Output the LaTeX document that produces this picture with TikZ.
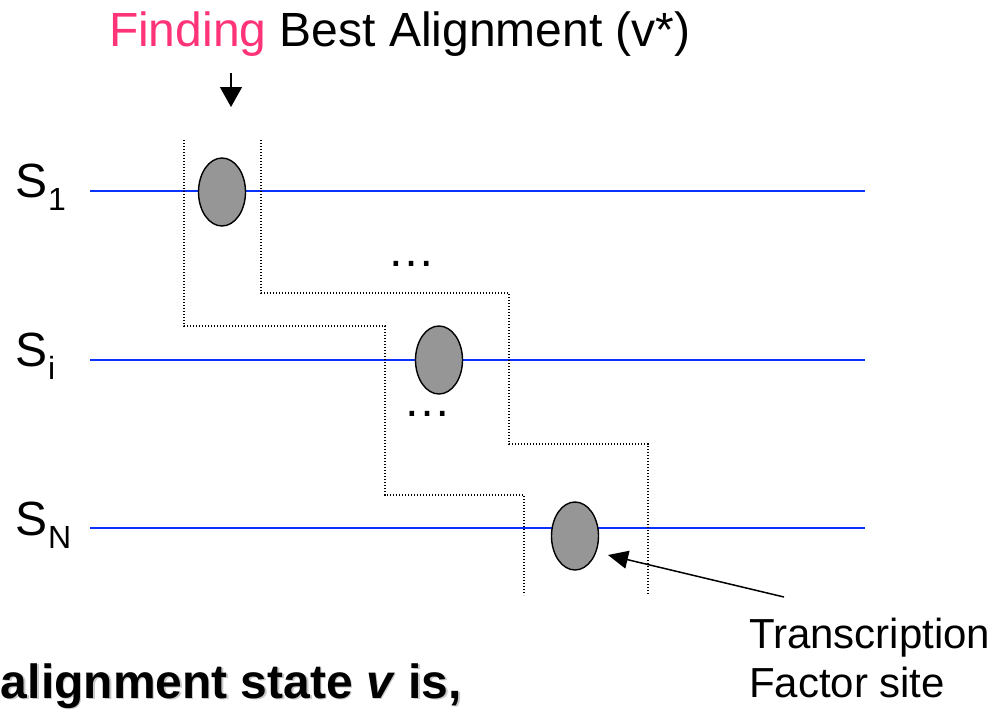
\documentclass[tikz,border=0pt]{standalone}
\usepackage{fontspec}
\setmainfont{Liberation Sans}
\usetikzlibrary{shapes.geometric,arrows.meta}
\definecolor{findpink}{RGB}{255,51,119}
\definecolor{seqblue}{RGB}{10,50,255}
\definecolor{sitegray}{RGB}{150,150,150}
\tikzset{
  seqline/.style={draw=seqblue, line width=2pt},
  site/.style={ellipse, draw=black, fill=sitegray, line width=1.4pt,
    minimum width=47pt, minimum height=68pt, inner sep=0pt},
  window/.style={draw=black, line width=1.2pt, dash pattern=on 1.2pt off 1.8pt},
  lbl/.style={anchor=base west, inner sep=0pt, outer sep=0pt},
  pointer/.style={draw=black, line width=1.5pt,
    -{Triangle[length=20pt, width=18pt]}},
  big/.style={font=\fontsize{48}{56}\selectfont},
  mid/.style={font=\fontsize{42}{49}\selectfont}
}
\newcommand{\seqname}[1]{S\raisebox{-13pt}{\fontsize{32}{32}\selectfont #1}}
\begin{document}
\begin{tikzpicture}[x=1pt, y=-1pt]
  \useasboundingbox (0,0) rectangle (999,710);

  % heading
  \node[lbl, big] (title) at (109,46)
    {\textcolor{findpink}{Finding} Best Alignment (v*)};
  \coordinate (downtop) at (231,73);
  \coordinate (downtip) at (231,107);
  \draw[draw=black, line width=1.3pt, -{Triangle[length=20pt, width=22pt]}]
    (downtop) -- (downtip);

  % sequence names
  \node[lbl, big] (s1) at (16,197) {\seqname{1}};
  \node[lbl, big] (si) at (16,366) {\seqname{i}};
  \node[lbl, big] (sn) at (16,535) {\seqname{N}};

  % sequence lines
  \coordinate (a1) at (90,191);  \coordinate (b1) at (865,191);
  \coordinate (ai) at (90,360);  \coordinate (bi) at (865,360);
  \coordinate (an) at (90,528);  \coordinate (bn) at (865,528);
  \draw[seqline] (a1) -- (b1);
  \draw[seqline] (ai) -- (bi);
  \draw[seqline] (an) -- (bn);

  % alignment window boundaries
  \draw[window] (184,140) -- (184,326) -- (385,326) -- (385,495)
    -- (524,495) -- (524,595);
  \draw[window] (261,140) -- (261,293) -- (509,293) -- (509,444)
    -- (648,444) -- (648,595);

  % sites
  \node[site] (e1) at (222,192) {};
  \node[site] (ei) at (439,360) {};
  \node[site] (en) at (575,536) {};

  % ellipses between sequences
  \node[lbl, big] (dots1) at (387.5,266) {…};
  \node[lbl, big] (dots2) at (403.5,416) {…};

  % transcription factor label
  \node[lbl, mid] (tf1) at (749,648) {Transcription};
  \node[lbl, mid] (tf2) at (749,697) {Factor site};
  \coordinate (tfstart) at (784,597);
  \coordinate (tftip) at (608,555);
  \draw[pointer] (tfstart) -- (tftip);

  % bottom statement with a soft shadow
  \node[lbl, big, text=black!22] (stateshadow) at (2.5,699.5)
    {\bfseries alignment state \textit{v} is,};
  \node[lbl, big] (state) at (1,698)
    {\bfseries alignment state \textit{v} is,};
\end{tikzpicture}
\end{document}
